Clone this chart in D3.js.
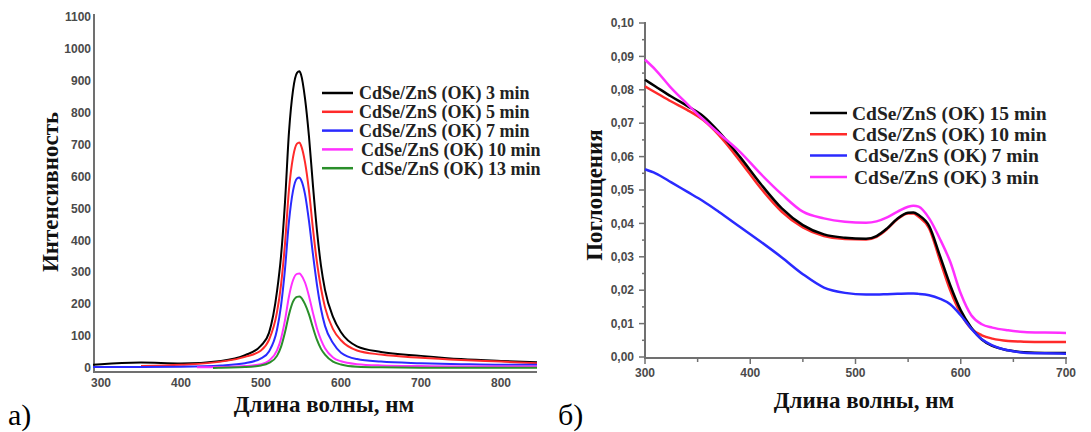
<!DOCTYPE html>
<html><head><meta charset="utf-8">
<script src="https://cdn.jsdelivr.net/npm/d3@7"></script>
<style>
html,body{margin:0;padding:0;background:#fff;}
svg{display:block;}
</style></head>
<body>
<svg id="c" width="1091" height="432"></svg>
<script>
// ---------- Left chart (a): emission spectra ----------
const leftWl = [290,300,350,400,450,480,500,510,520,525,530,535,540,545,548,550,555,560,565,570,575,580,590,600,620,650,700,750,800,845];
const left3min  = [10,12,17,14,22,40,70,110,240,350,520,740,870,925,930,920,845,725,570,430,320,245,160,112,68,50,38,28,22,18];
const left5min  = [null,null,6,10,20,35,55,88,175,260,390,560,660,703,707,698,645,555,435,330,250,190,122,87,55,42,32,25,20,15];
const left7min  = [3,3,3,4,8,15,30,52,120,195,310,460,555,594,597,590,545,460,355,260,185,132,78,48,28,20,15,12,10,10];
const left10min = [null,null,null,null,3,6,12,23,55,92,150,225,275,295,296,292,268,225,172,124,88,62,33,21,12,8,6,5,5,5];
const left13min = [null,null,null,null,1,3,8,16,38,66,112,168,208,223,224,221,200,168,126,88,60,42,20,11,4,2,1,1,1,1];
const leftStartWl = {m10: 420, m13: 440};
const leftYTicks = [0,100,200,300,400,500,600,700,800,900,1000,1100];
const leftXTicks = [300,400,500,600,700,800];
const leftNames = ["CdSe/ZnS (OK) 3 min","CdSe/ZnS (OK) 5 min","CdSe/ZnS (OK) 7 min","CdSe/ZnS (OK) 10 min","CdSe/ZnS (OK) 13 min"];
const leftColors = ["#000000","#ff2a2a","#2a2aff","#ff30ff","#2a8f2a"];

// ---------- Right chart (б): absorption spectra ----------
const rightWl = [300,310,325,340,355,370,390,410,430,450,470,490,510,520,530,540,550,555,560,570,580,590,600,610,620,630,645,660,680,700];
const right15min = [.0830,.0810,.0780,.0752,.0722,.0675,.0600,.0518,.0445,.0395,.0367,.0357,.0354,.0362,.0385,.0415,.0432,.0433,.0425,.0392,.0305,.0215,.0140,.0088,.0052,.0033,.0020,.0014,.0012,.0012];
const right10min = [.0810,.0792,.0765,.0740,.0710,.0665,.0588,.0505,.0435,.0388,.0362,.0353,.0352,.0360,.0383,.0413,.0430,.0430,.0420,.0385,.0292,.0200,.0130,.0085,.0065,.0055,.0048,.0046,.0045,.0045];
const right7min  = [.0562,.0550,.0523,.0495,.0467,.0435,.0390,.0345,.0298,.0248,.0208,.0192,.0187,.0187,.0188,.0189,.0190,.0190,.0189,.0185,.0175,.0158,.0125,.0085,.0053,.0035,.0020,.0013,.0011,.0010];
const right3min  = [.0890,.0860,.0805,.0758,.0712,.0670,.0615,.0548,.0487,.0435,.0415,.0405,.0402,.0406,.0418,.0435,.0450,.0453,.0450,.0415,.0355,.0285,.0190,.0125,.0098,.0088,.0080,.0075,.0073,.0072];
const rightYTicks = [0,0.01,0.02,0.03,0.04,0.05,0.06,0.07,0.08,0.09,0.10];
const rightXTicks = [300,400,500,600,700];
const rightNames = ["CdSe/ZnS (OK) 15 min","CdSe/ZnS (OK) 10 min","CdSe/ZnS (OK) 7 min","CdSe/ZnS (OK) 3 min"];
const rightColors = ["#000000","#ff2a2a","#2a2aff","#ff30ff"];

const xTitle = "Длина волны, нм";
const leftYTitle = "Интенсивность";
const rightYTitle = "Поглощения";

const svg = d3.select("#c");
const serif = "'Liberation Serif','Times New Roman',serif";
const sans = "'Liberation Sans',Arial,sans-serif";
const axisCol = "#707070";

// ===== LEFT =====
const lx = d3.scaleLinear().domain([290,845]).range([93,537]);
const ly = d3.scaleLinear().domain([0,1100]).range([368,17]);
const L = svg.append("g");

L.append("line").attr("x1",94).attr("x2",94).attr("y1",14).attr("y2",372).attr("stroke",axisCol).attr("stroke-width",2);
L.append("line").attr("x1",93).attr("x2",537).attr("y1",372).attr("y2",372).attr("stroke",axisCol).attr("stroke-width",2);

L.selectAll("text.ly").data(leftYTicks).join("text").attr("class","ly")
  .attr("x",91).attr("y",d=>ly(d)).attr("dy","0.35em").attr("text-anchor","end")
  .attr("font-family",sans).attr("font-weight","bold").attr("font-size",12).attr("fill","#4a4a4a")
  .text(d=>d);
L.selectAll("text.lx").data(leftXTicks).join("text").attr("class","lx")
  .attr("x",d=>lx(d)).attr("y",387).attr("text-anchor","middle")
  .attr("font-family",sans).attr("font-weight","bold").attr("font-size",12).attr("fill","#4a4a4a")
  .text(d=>d);

const leftSeries = [left3min,left5min,left7min,left10min,left13min];
const lineL = d3.line().x(d=>lx(d[0])).y(d=>ly(d[1])).curve(d3.curveMonotoneX);
leftSeries.forEach((s,i)=>{
  const pts = leftWl.map((w,j)=>[w,s[j]]);
  if(i===3){ const k=pts.findIndex(p=>p[1]!=null); pts.splice(k,0,[leftStartWl.m10,2]); }
  if(i===4){ const k=pts.findIndex(p=>p[1]!=null); pts.splice(k,0,[leftStartWl.m13,0]); }
  L.append("path").datum(pts.filter(p=>p[1]!=null)).attr("d",lineL)
    .attr("fill","none").attr("stroke",leftColors[i]).attr("stroke-width",2);
});

leftNames.forEach((n,i)=>{
  const y = 93 + i*18.8;
  L.append("line").attr("x1",322).attr("x2",353).attr("y1",y).attr("y2",y)
    .attr("stroke",leftColors[i]).attr("stroke-width",2.5);
  L.append("text").attr("x",i>=3?361:359).attr("y",y).attr("dy","0.35em")
    .attr("font-family",serif).attr("font-weight","bold").attr("font-size",18).attr("fill","#222")
    .text(n);
});

L.append("text").attr("transform","translate(58,192) rotate(-90)").attr("text-anchor","middle")
  .attr("font-family",serif).attr("font-weight","bold").attr("font-size",23).attr("fill","#111").text(leftYTitle);
L.append("text").attr("x",324).attr("y",412).attr("text-anchor","middle")
  .attr("font-family",serif).attr("font-weight","bold").attr("font-size",23).attr("fill","#111").text(xTitle);
L.append("text").attr("x",8).attr("y",425)
  .attr("font-family",serif).attr("font-size",30).attr("fill","#000").text("а)");

// ===== RIGHT =====
const rx = d3.scaleLinear().domain([300,700]).range([645,1066]);
const ry = d3.scaleLinear().domain([0,0.10]).range([357,23]);
const R = svg.append("g");
R.append("line").attr("x1",645).attr("x2",645).attr("y1",22).attr("y2",358).attr("stroke",axisCol).attr("stroke-width",2);
R.append("line").attr("x1",644).attr("x2",1067).attr("y1",358).attr("y2",358).attr("stroke",axisCol).attr("stroke-width",2);

R.selectAll("line.ryt").data(rightYTicks).join("line").attr("class","ryt")
  .attr("x1",639).attr("x2",645).attr("y1",d=>ry(d)).attr("y2",d=>ry(d)).attr("stroke",axisCol).attr("stroke-width",1.5);
R.selectAll("line.rym").data(rightYTicks.slice(0,-1).map(d=>d+0.005)).join("line").attr("class","rym")
  .attr("x1",642).attr("x2",645).attr("y1",d=>ry(d)).attr("y2",d=>ry(d)).attr("stroke",axisCol).attr("stroke-width",1.5);
R.selectAll("text.ry").data(rightYTicks).join("text").attr("class","ry")
  .attr("x",634).attr("y",d=>ry(d)).attr("dy","0.35em").attr("text-anchor","end")
  .attr("font-family",sans).attr("font-weight","bold").attr("font-size",12).attr("fill","#4a4a4a")
  .text(d=>d3.format(".2f")(d).replace(".",","));
R.selectAll("line.rxt").data(rightXTicks).join("line").attr("class","rxt")
  .attr("x1",d=>rx(d)).attr("x2",d=>rx(d)).attr("y1",358).attr("y2",364).attr("stroke",axisCol).attr("stroke-width",1.5);
R.selectAll("line.rxm").data(rightXTicks.slice(0,-1).map(d=>d+50)).join("line").attr("class","rxm")
  .attr("x1",d=>rx(d)).attr("x2",d=>rx(d)).attr("y1",358).attr("y2",362).attr("stroke",axisCol).attr("stroke-width",1.5);
R.selectAll("text.rx").data(rightXTicks).join("text").attr("class","rx")
  .attr("x",d=>rx(d)).attr("y",377).attr("text-anchor","middle")
  .attr("font-family",sans).attr("font-weight","bold").attr("font-size",12).attr("fill","#4a4a4a")
  .text(d=>d);

const lineR = d3.line().x(d=>rx(d[0])).y(d=>ry(d[1])).curve(d3.curveMonotoneX);
const rightSeries = [right15min,right10min,right7min,right3min];
[1,0,2,3].forEach(i=>{
  R.append("path").datum(rightWl.map((w,j)=>[w,rightSeries[i][j]])).attr("d",lineR)
    .attr("fill","none").attr("stroke",rightColors[i]).attr("stroke-width",2.5);
});

rightNames.forEach((n,i)=>{
  const y = 113 + i*21.3;
  R.append("line").attr("x1",810).attr("x2",847).attr("y1",y).attr("y2",y)
    .attr("stroke",rightColors[i]).attr("stroke-width",2.5);
  R.append("text").attr("x",i>=2?854:852).attr("y",y).attr("dy","0.35em")
    .attr("font-family",serif).attr("font-weight","bold").attr("font-size",19.5).attr("fill","#222")
    .text(n);
});

R.append("text").attr("transform","translate(602,195) rotate(-90)").attr("text-anchor","middle")
  .attr("font-family",serif).attr("font-weight","bold").attr("font-size",23).attr("fill","#111").text(rightYTitle);
R.append("text").attr("x",864).attr("y",408).attr("text-anchor","middle")
  .attr("font-family",serif).attr("font-weight","bold").attr("font-size",23).attr("fill","#111").text(xTitle);
R.append("text").attr("x",558).attr("y",425)
  .attr("font-family",serif).attr("font-size",30).attr("fill","#000").text("б)");
</script>
</body></html>
